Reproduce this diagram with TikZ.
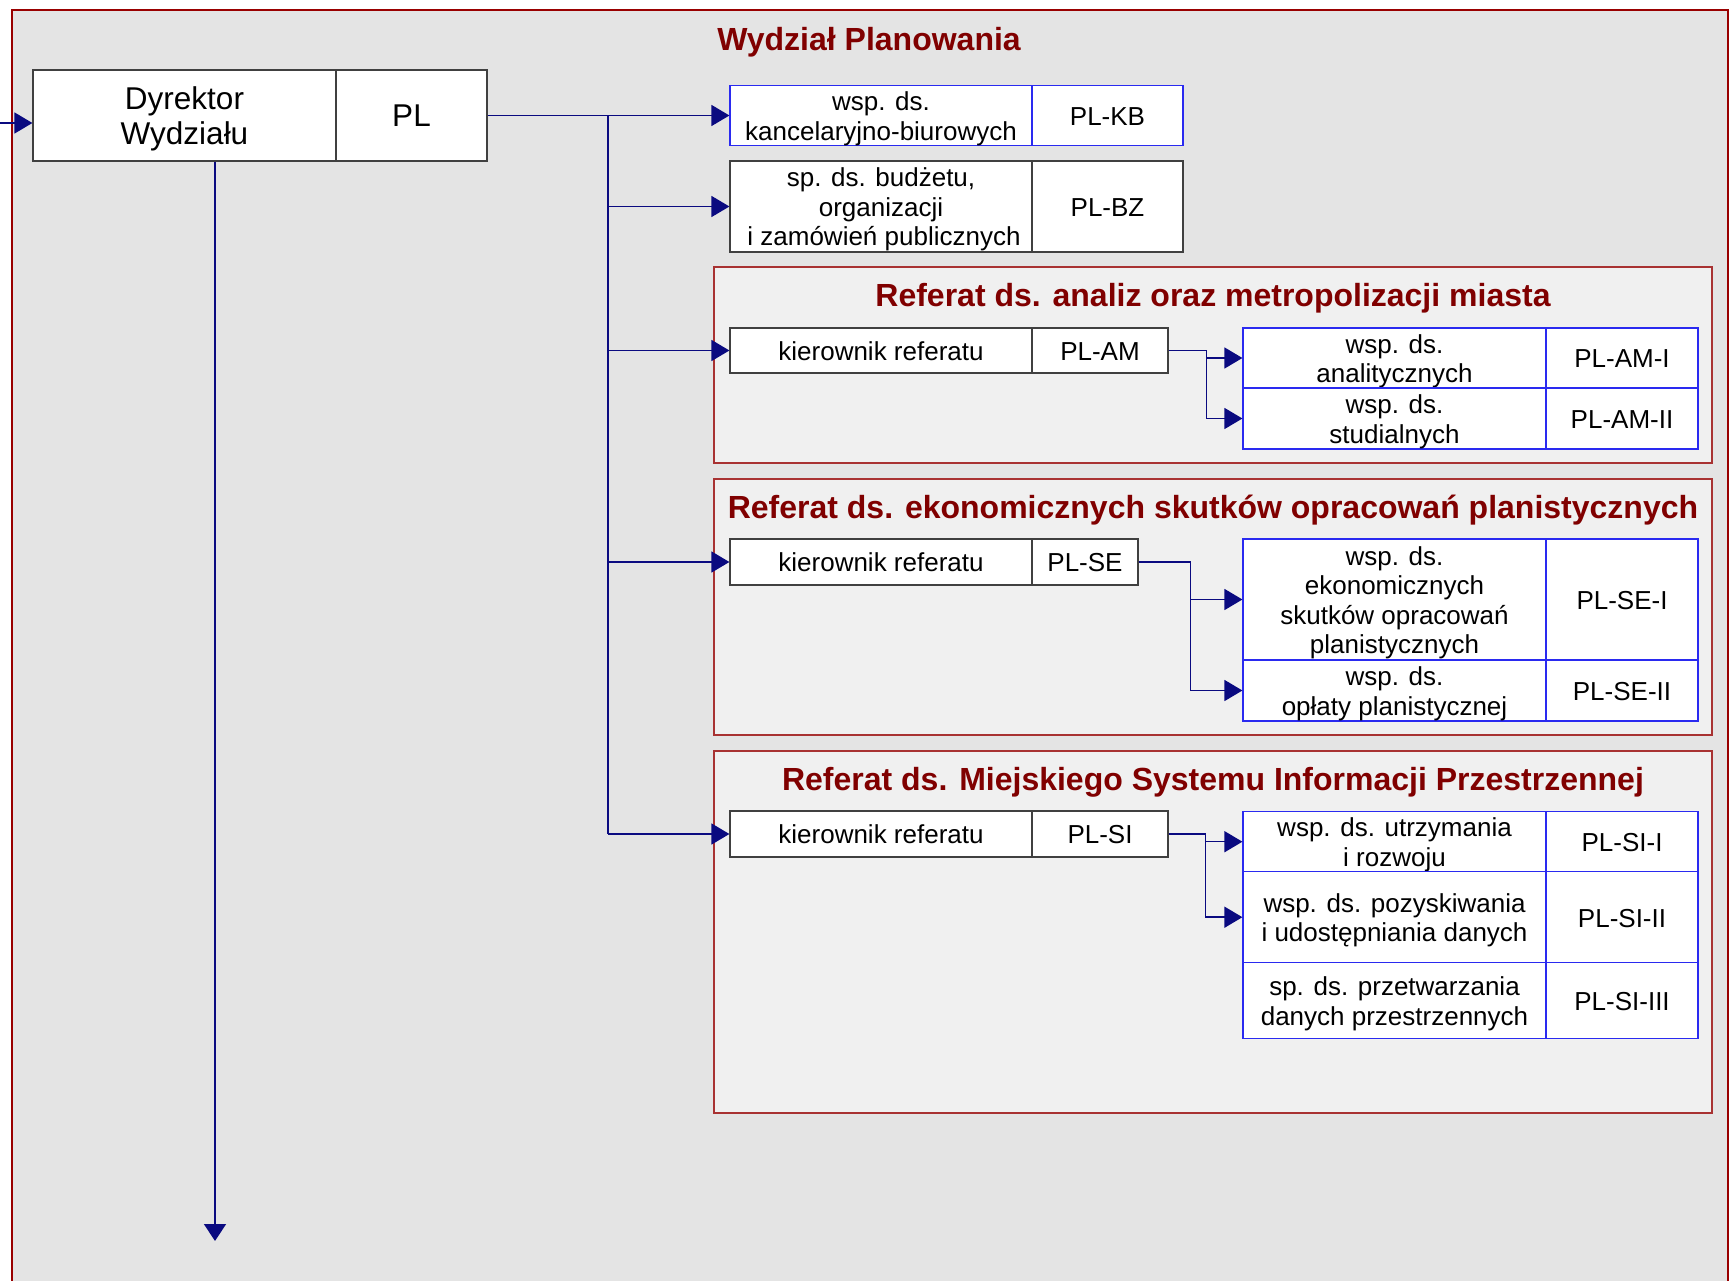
\documentclass[tikz,border=0pt]{standalone}
\usepackage{fontspec}
\setmainfont{Liberation Sans}
\usetikzlibrary{arrows.meta,calc}
\definecolor{bgA}{HTML}{E4E4E4}
\definecolor{bgB}{HTML}{F0F0F0}
\definecolor{frameRed}{HTML}{990000}
\definecolor{refRed}{HTML}{A83232}
\definecolor{titleRed}{HTML}{800000}
\definecolor{navyC}{HTML}{0A0A80}
\definecolor{boxBlue}{HTML}{2A2AF0}
\definecolor{boxGray}{HTML}{404040}
\newcommand{\celltxt}[1]{\raisebox{-4pt}[\height][\depth]{\begin{tabular}{@{}c@{}}#1\end{tabular}}}
\newcommand{\dirtxt}[1]{\raisebox{-4.5pt}[\height][\depth]{\begin{tabular}{@{}c@{}}#1\end{tabular}}}
\tikzset{
  gcell/.style={draw=boxGray, fill=white, line width=1.2pt, inner sep=0pt,
                font=\fontsize{26}{29.5}\selectfont},
  bcell/.style={gcell, draw=boxBlue},
  dcell/.style={gcell, font=\fontsize{31.5}{35}\selectfont},
  ttl/.style={text=titleRed, font=\fontsize{32}{38}\selectfont\bfseries, inner sep=0pt, anchor=base},
  refframe/.style={draw=refRed, fill=bgB, line width=1.4pt},
  conn/.style={draw=navyC, line width=1.5pt},
  arr/.style={conn, -{Triangle[length=18pt,width=21pt]}},
  arrD/.style={conn, -{Triangle[length=17pt,width=22pt]}}
}
\begin{document}
\begin{tikzpicture}[x=1pt,y=-1pt]
\path[use as bounding box] (0,0) rectangle (1736,1281);
\fill[white] (0,0) rectangle (1736,1281);
% outer frame
\fill[bgA] (12,10) rectangle (1728,1281);
\draw[frameRed, line width=1.6pt] (12,1281) -- (12,10) -- (1728,10) -- (1728,1281);
\node[ttl] (tMain) at (869,51) {Wydział Planowania};

% referat frames
\draw[refframe] (714,267) rectangle (1712,463);
\draw[refframe] (714,479) rectangle (1712,735);
\draw[refframe] (714,751) rectangle (1712,1113);
\node[ttl] (tAM) at (1213,306) {Referat ds. analiz oraz metropolizacji miasta};
\node[ttl] (tSE) at (1213,518.5) {Referat ds. ekonomicznych skutków opracowań planistycznych};
\node[ttl] (tSI) at (1213,790) {Referat ds. Miejskiego Systemu Informacji Przestrzennej};

% director
\node[dcell, minimum width=303, minimum height=91] (dirL) at (184.5,115.5) {\dirtxt{Dyrektor\\Wydziału}};
\node[dcell, minimum width=151, minimum height=91] (dirR) at (411.5,115.5) {\dirtxt{PL}};

% top positions
\node[bcell, minimum width=302, minimum height=60] (kbL) at (881,115.5) {\celltxt{wsp. ds.\\kancelaryjno-biurowych}};
\node[bcell, minimum width=151, minimum height=60] (kbR) at (1107.5,115.5) {\celltxt{PL-KB}};
\node[gcell, minimum width=302, minimum height=91] (bzL) at (881,206.5) {\celltxt{sp. ds. budżetu,\\organizacji\\\hspace*{6pt}i zamówień publicznych}};
\node[gcell, minimum width=151, minimum height=91] (bzR) at (1107.5,206.5) {\celltxt{PL-BZ}};

% referat heads
\node[gcell, minimum width=302, minimum height=45] (amL) at (881,350.5) {\celltxt{kierownik referatu}};
\node[gcell, minimum width=136, minimum height=45] (amR) at (1100,350.5) {\celltxt{PL-AM}};
\node[gcell, minimum width=302, minimum height=46] (seL) at (881,562) {\celltxt{kierownik referatu}};
\node[gcell, minimum width=106, minimum height=46] (seR) at (1085,562) {\celltxt{PL-SE}};
\node[gcell, minimum width=302, minimum height=46] (siL) at (881,834) {\celltxt{kierownik referatu}};
\node[gcell, minimum width=136, minimum height=46] (siR) at (1100,834) {\celltxt{PL-SI}};

% AM subordinates
\node[bcell, minimum width=303, minimum height=60] (amIL) at (1394.5,358) {\celltxt{wsp. ds.\\analitycznych}};
\node[bcell, minimum width=152, minimum height=60] (amIR) at (1622,358) {\celltxt{PL-AM-I}};
\node[bcell, minimum width=303, minimum height=61] (amIIL) at (1394.5,418.5) {\celltxt{wsp. ds.\\studialnych}};
\node[bcell, minimum width=152, minimum height=61] (amIIR) at (1622,418.5) {\celltxt{PL-AM-II}};

% SE subordinates
\node[bcell, minimum width=303, minimum height=121] (seIL) at (1394.5,599.5) {\celltxt{wsp. ds.\\ekonomicznych\\skutków opracowań\\planistycznych}};
\node[bcell, minimum width=152, minimum height=121] (seIR) at (1622,599.5) {\celltxt{PL-SE-I}};
\node[bcell, minimum width=303, minimum height=61] (seIIL) at (1394.5,690.5) {\celltxt{wsp. ds.\\opłaty planistycznej}};
\node[bcell, minimum width=152, minimum height=61] (seIIR) at (1622,690.5) {\celltxt{PL-SE-II}};

% SI subordinates
\node[bcell, minimum width=303, minimum height=60] (siIL) at (1394.5,841.7) {\celltxt{wsp. ds. utrzymania\\i rozwoju}};
\node[bcell, minimum width=152, minimum height=60] (siIR) at (1622,841.7) {\celltxt{PL-SI-I}};
\node[bcell, minimum width=303, minimum height=91] (siIIL) at (1394.5,917.2) {\celltxt{wsp. ds. pozyskiwania\\i udostępniania danych}};
\node[bcell, minimum width=152, minimum height=91] (siIIR) at (1622,917.2) {\celltxt{PL-SI-II}};
\node[bcell, minimum width=303, minimum height=76] (siIIIL) at (1394.5,1000.5) {\celltxt{sp. ds. przetwarzania\\danych przestrzennych}};
\node[bcell, minimum width=152, minimum height=76] (siIIIR) at (1622,1000.5) {\celltxt{PL-SI-III}};

% connectors
\coordinate (inS) at (0,123);
\draw[arr] (inS) -- (inS -| dirL.west);
\coordinate (dOut) at (215,1241);
\draw[arrD] (dirL.south -| dOut) -- (dOut);
\coordinate (busTop) at (608,115.5);
\draw[arr] (dirR.east) -- (kbL.west);
\draw[conn] (busTop) -- (busTop |- siL.west);
\draw[arr] (busTop |- bzL.west) -- (bzL.west);
\draw[arr] (busTop |- amL.west) -- (amL.west);
\draw[arr] (busTop |- seL.west) -- (seL.west);
\draw[arr] (busTop |- siL.west) -- (siL.west);

\coordinate (amE) at ($(amR.east)+(38,0)$);
\draw[arr] (amR.east) -- (amE) |- (amIIL.west);
\draw[arr] (amE) |- (amIL.west);
\coordinate (seE) at ($(seR.east)+(52,0)$);
\draw[arr] (seR.east) -- (seE) |- (seIIL.west);
\draw[arr] (seE) |- (seIL.west);
\coordinate (siE) at ($(siR.east)+(37,0)$);
\draw[arr] (siR.east) -- (siE) |- (siIIL.west);
\draw[arr] (siE) |- (siIL.west);
\end{tikzpicture}
\end{document}
